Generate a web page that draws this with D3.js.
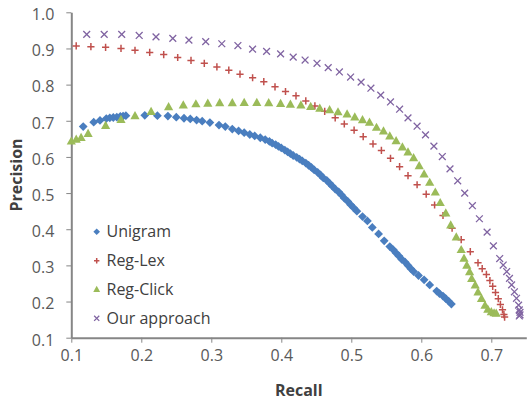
<!DOCTYPE html>
<html>
<head>
<meta charset="utf-8">
<script src="https://cdn.jsdelivr.net/npm/d3@7"></script>
<style>
  html, body { margin: 0; padding: 0; background: #fff; }
  svg { display: block; }
</style>
</head>
<body>
<svg id="chart" width="527" height="403"></svg>
<script>
// ---- data (recall, precision) ----
const seriesNames = ["Unigram", "Reg-Lex", "Reg-Click", "Our approach"];
const xTicks = [0.1, 0.2, 0.3, 0.4, 0.5, 0.6, 0.7];
const yTicks = [0.1, 0.2, 0.3, 0.4, 0.5, 0.6, 0.7, 0.8, 0.9, 1.0];

const unigram = [
  [0.117,0.684],[0.132,0.696],[0.141,0.701],[0.150,0.706],[0.155,0.708],[0.160,0.709],
  [0.165,0.710],[0.170,0.712],[0.174,0.713],[0.178,0.714],[0.205,0.715],[0.223,0.714],
  [0.238,0.713],[0.250,0.710],[0.261,0.707],[0.270,0.705],[0.279,0.702],[0.287,0.699],
  [0.298,0.695],[0.311,0.688],[0.320,0.684],[0.330,0.677],[0.339,0.672],[0.347,0.667],
  [0.355,0.662],[0.362,0.658],[0.370,0.653],[0.377,0.648],[0.383,0.643],
  [0.387,0.638],[0.392,0.634],[0.396,0.629],[0.400,0.625],[0.405,0.619],[0.409,0.614],
  [0.413,0.609],[0.417,0.604],[0.422,0.599],[0.426,0.594],[0.430,0.589],[0.435,0.583],
  [0.439,0.577],[0.443,0.571],[0.447,0.564],[0.452,0.557],[0.456,0.550],[0.460,0.542],
  [0.465,0.535],[0.469,0.527],[0.473,0.519],[0.477,0.511],[0.482,0.503],[0.486,0.495],
  [0.490,0.486],[0.495,0.477],[0.499,0.468],
  [0.503,0.460],[0.508,0.450],[0.516,0.435],[0.523,0.423],[0.530,0.405],[0.539,0.387],
  [0.547,0.368],
  [0.555,0.352],[0.560,0.343],[0.564,0.334],[0.568,0.326],[0.572,0.317],[0.577,0.309],
  [0.581,0.300],[0.585,0.291],[0.589,0.283],
  [0.596,0.272],[0.604,0.260],[0.612,0.246],
  [0.622,0.229],[0.626,0.222],[0.631,0.215],[0.635,0.208],[0.639,0.201],[0.643,0.193]
];

const regLex = [
  [0.107,0.907],[0.128,0.905],[0.149,0.903],[0.171,0.900],[0.191,0.895],[0.212,0.889],
  [0.232,0.883],[0.252,0.875],[0.271,0.867],[0.290,0.859],[0.308,0.849],[0.325,0.840],
  [0.341,0.829],[0.359,0.819],[0.375,0.808],[0.391,0.794],[0.406,0.781],[0.421,0.769],
  [0.435,0.755],[0.448,0.741],[0.462,0.726],[0.477,0.708],[0.490,0.691],[0.504,0.674],
  [0.517,0.656],[0.531,0.636],[0.543,0.618],[0.556,0.596],[0.569,0.573],[0.581,0.548],
  [0.594,0.523],[0.607,0.497],[0.619,0.467],[0.631,0.438],[0.644,0.403],[0.657,0.371],
  [0.670,0.338],[0.681,0.307],[0.687,0.291],[0.693,0.275],[0.698,0.258],[0.702,0.242],
  [0.706,0.225],[0.710,0.208],[0.713,0.192],[0.716,0.177],[0.718,0.164],[0.719,0.157]
];

const regClick = [
  [0.100,0.644],[0.107,0.649],[0.114,0.654],[0.124,0.665],[0.149,0.687],[0.171,0.704],
  [0.191,0.714],[0.214,0.726],[0.239,0.739],[0.260,0.744],[0.278,0.747],[0.295,0.749],
  [0.312,0.750],[0.330,0.750],[0.347,0.751],[0.365,0.751],[0.382,0.750],[0.399,0.748],
  [0.413,0.746],[0.428,0.744],[0.442,0.740],[0.455,0.735],[0.469,0.731],[0.481,0.725],
  [0.494,0.719],[0.505,0.711],[0.516,0.703],[0.526,0.696],[0.536,0.682],[0.546,0.672],
  [0.555,0.658],[0.564,0.645],[0.573,0.628],[0.581,0.614],[0.589,0.598],[0.597,0.576],
  [0.604,0.553],[0.612,0.530],[0.620,0.503],[0.627,0.474],[0.635,0.445],[0.642,0.412],
  [0.650,0.379],[0.657,0.344],[0.661,0.320],[0.665,0.301],[0.669,0.283],[0.672,0.264],
  [0.677,0.246],[0.681,0.227],[0.686,0.209],[0.691,0.190],[0.695,0.179],[0.700,0.172],
  [0.704,0.169],[0.707,0.168]
];

const ourApproach = [
  [0.122,0.939],[0.147,0.939],[0.172,0.939],[0.197,0.936],[0.221,0.932],[0.245,0.928],
  [0.268,0.923],[0.292,0.919],[0.315,0.913],[0.338,0.908],[0.359,0.898],[0.379,0.892],
  [0.399,0.885],[0.417,0.876],[0.434,0.868],[0.451,0.859],[0.467,0.847],[0.483,0.835],
  [0.499,0.821],[0.514,0.807],[0.528,0.790],[0.542,0.771],[0.556,0.752],[0.569,0.732],
  [0.581,0.708],[0.594,0.685],[0.606,0.661],[0.618,0.630],[0.630,0.601],[0.641,0.567],
  [0.652,0.534],[0.662,0.500],[0.673,0.465],[0.683,0.429],[0.694,0.392],[0.703,0.354],
  [0.712,0.319],[0.717,0.301],[0.722,0.283],[0.726,0.264],[0.729,0.246],[0.733,0.227],
  [0.736,0.209],[0.739,0.190],[0.740,0.177],[0.741,0.163],[0.741,0.170],[0.740,0.160]
];

// ---- chart ----
const svg = d3.select("#chart");
const font = "'Open Sans', 'Liberation Sans', sans-serif";
const x = d3.scaleLinear().domain([0.1, 0.75]).range([71.3, 526.3]);
const y = d3.scaleLinear().domain([0.1, 1.0]).range([337.7, 12.3]);

const axisColor = "#868686";
const labelColor = "#595959";

// axes
const gx = svg.append("g").attr("transform", `translate(0,${y(0.1)})`)
  .call(d3.axisBottom(x).tickValues(xTicks).tickFormat(d3.format(".1f"))
    .tickSize(5).tickSizeOuter(0).tickPadding(6));
const gy = svg.append("g").attr("transform", `translate(${x(0.1)},0)`)
  .call(d3.axisLeft(y).tickValues(yTicks).tickFormat(d3.format(".1f"))
    .tickSize(5).tickSizeOuter(0).tickPadding(12));

[gx, gy].forEach(g => {
  g.select(".domain").attr("stroke", axisColor).attr("stroke-width", 2);
  g.selectAll(".tick line").attr("stroke", axisColor).attr("stroke-width", 1);
  g.selectAll(".tick text").attr("fill", labelColor)
    .style("font-family", font).style("font-size", "16px");
});
gy.selectAll(".tick text").attr("dy", "0.46em");
gx.selectAll(".tick text").attr("dy", "0.75em");

// axis titles
svg.append("text").attr("x", (x(0.1) + x(0.75)) / 2).attr("y", 396)
  .attr("text-anchor", "middle").attr("fill", "#404040")
  .style("font-family", font).style("font-size", "16px").style("font-weight", "bold")
  .text("Recall");
svg.append("text").attr("transform", `translate(22,${(y(0.1) + y(1.0)) / 2}) rotate(-90)`)
  .attr("text-anchor", "middle").attr("fill", "#404040")
  .style("font-family", font).style("font-size", "16px").style("font-weight", "bold")
  .text("Precision");

// marker definitions
const colors = ["#4A7EBF", "#C0504D", "#9BBB59", "#8064A2"];
const shapes = [
  s => `M0,${-4.4*s}L${4.4*s},0L0,${4.4*s}L${-4.4*s},0Z`,
  s => `M${-3.6*s},0H${3.6*s}M0,${-3.6*s}V${3.6*s}`,
  s => `M0,${-4.6*s}L${4.6*s},${3.6*s}L${-4.6*s},${3.6*s}Z`,
  s => `M${-3.4*s},${-3.4*s}L${3.4*s},${3.4*s}M${-3.4*s},${3.4*s}L${3.4*s},${-3.4*s}`
];
const filled = [true, false, true, false];
const strokeW = [0, 1.5, 0, 1.3];

function styleMarker(sel, i) {
  if (filled[i]) sel.attr("fill", colors[i]).attr("stroke", "none");
  else sel.attr("fill", "none").attr("stroke", colors[i]).attr("stroke-width", strokeW[i]);
}

const allSeries = [unigram, regLex, regClick, ourApproach];
allSeries.forEach((data, i) => {
  const g = svg.append("g").attr("class", "series-" + i);
  g.selectAll("path").data(data).join("path")
    .attr("d", shapes[i](1))
    .attr("transform", d => `translate(${x(d[0])},${y(d[1])})`)
    .call(styleMarker, i);
});

// legend
const legendY = [231.7, 260.7, 289.3, 318.3];
const legend = svg.append("g");
seriesNames.forEach((name, i) => {
  legend.append("path").attr("d", shapes[i](0.75))
    .attr("transform", `translate(96.7,${legendY[i]})`)
    .call(styleMarker, i);
  legend.append("text").attr("x", 106.5).attr("y", legendY[i]).attr("dy", "0.36em")
    .attr("fill", "#404040").style("font-family", font).style("font-size", "16px")
    .text(name);
});
</script>
</body>
</html>
